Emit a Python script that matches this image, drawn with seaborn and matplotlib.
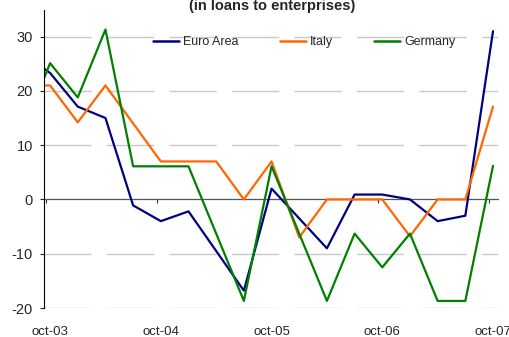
import numpy as np
import pandas as pd
import matplotlib
matplotlib.use("Agg")
import matplotlib.pyplot as plt
import seaborn as sns

# quarterly values, jul-03 (partly hidden behind the axis) to oct-07
quarters = ["jul-03", "oct-03", "jan-04", "apr-04", "jul-04", "oct-04", "jan-05", "apr-05", "jul-05",
            "oct-05", "jan-06", "apr-06", "jul-06", "oct-06", "jan-07", "apr-07", "jul-07", "oct-07"]
euro_area = [27.0, 23.3, 17.1, 15.0, -1.1, -4.0, -2.2, -9.5, -16.8, 2.0, -3.5, -9.0, 0.9, 0.9, 0.0, -4.0, -3.0, 31.0]
italy = [21.0, 21.0, 14.2, 21.0, 14.0, 7.0, 7.0, 7.0, 0.0, 7.0, -7.0, 0.0, 0.0, 0.0, -6.8, 0.0, 0.0, 17.1]
germany = [12.5, 25.1, 18.8, 31.3, 6.1, 6.1, 6.1, -6.3, -18.7, 6.1, -6.3, -18.7, -6.3, -12.5, -6.3, -18.7, -18.7, 6.2]
series_names = ["Euro Area", "Italy", "Germany"]
colors = ["#000080", "#FF6600", "#008000"]
year_labels = ["oct-03", "oct-04", "oct-05", "oct-06", "oct-07"]
y_ticks = [-20, -10, 0, 10, 20, 30]

sns.set_style("white")
plt.rcParams["font.family"] = ["Liberation Sans", "DejaVu Sans"]

pos = np.arange(len(quarters)) - 1  # oct-03 sits at 0
df = pd.DataFrame({"pos": np.tile(pos, 3),
                   "value": euro_area + italy + germany,
                   "series": np.repeat(series_names, len(quarters))})

fig = plt.figure(figsize=(5.1, 3.37), dpi=100)
ax = fig.add_axes([44 / 510, 29 / 337, 454 / 510, 298 / 337])

ylo, yhi = -20, 34.9
for y in y_ticks:
    if y != 0:
        ax.axhline(y, color="#c8c8c8", lw=1.0, dashes=(34, 11), zorder=0)

sns.lineplot(data=df, x="pos", y="value", hue="series", palette=colors,
             hue_order=series_names, lw=1.6, ax=ax, legend=True)

ax.set_xlim(-0.22, 16.18)
ax.set_ylim(ylo, yhi)
ax.set_yticks(y_ticks)
ax.set_yticklabels([str(v) for v in y_ticks])
ax.set_xticks(np.arange(0, 17, 4))
ax.set_xticklabels(year_labels)
ax.tick_params(axis="x", length=0, pad=13, labelsize=9.5)
ax.tick_params(axis="y", left=True, length=3, width=0.8, pad=5, labelsize=10.5, direction="out")
ax.set_xlabel("")
ax.set_ylabel("")
for s in ["top", "right", "bottom"]:
    ax.spines[s].set_visible(False)
ax.spines["left"].set_color("black")
ax.spines["left"].set_linewidth(0.8)

# zero line with small tick marks
zero = ax.secondary_xaxis((0 - ylo) / (yhi - ylo))
zero.set_xticks(np.arange(0, 17, 4) - 0.15)
zero.set_xticklabels([])
zero.tick_params(length=3, width=0.8, direction="out", color="#333333")
zero.spines["bottom"].set_color("#555555")
zero.spines["bottom"].set_linewidth(0.9)

leg = ax.legend(loc="upper left", bbox_to_anchor=(0.215, 0.95), ncol=3, frameon=False,
                fontsize=9, handlelength=2.1, handletextpad=0.3, columnspacing=3.3)
for line in leg.get_lines():
    line.set_linewidth(1.8)

fig.text(0.533, 1 - 6 / 337, "(in loans to enterprises)", ha="center", va="center",
         fontsize=10.5, fontweight="bold")

fig.savefig("out.png", dpi=100)
